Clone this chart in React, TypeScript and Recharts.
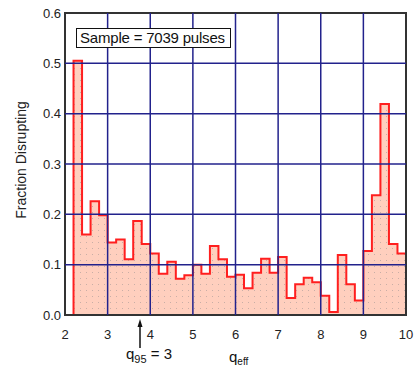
import React from 'react';
import {
  ComposedChart,
  Area,
  XAxis,
  YAxis,
  ReferenceLine,
  ReferenceArea,
} from 'recharts';

// Histogram bin starts (bin width 0.2) and fraction disrupting values
const binStarts = [
  2.2, 2.4, 2.6, 2.8, 3.0, 3.2, 3.4, 3.6, 3.8, 4.0,
  4.2, 4.4, 4.6, 4.8, 5.0, 5.2, 5.4, 5.6, 5.8, 6.0,
  6.2, 6.4, 6.6, 6.8, 7.0, 7.2, 7.4, 7.6, 7.8, 8.0,
  8.2, 8.4, 8.6, 8.8, 9.0, 9.2, 9.4, 9.6, 9.8,
];
const fractions = [
  0.505, 0.16, 0.226, 0.198, 0.144, 0.15, 0.111, 0.187, 0.141, 0.122,
  0.082, 0.106, 0.072, 0.079, 0.1, 0.082, 0.137, 0.111, 0.076, 0.08,
  0.053, 0.084, 0.112, 0.084, 0.115, 0.034, 0.061, 0.074, 0.065, 0.038,
  0.006, 0.119, 0.061, 0.029, 0.127, 0.238, 0.419, 0.141, 0.122,
];
const xEnd = 10;
const xTicks = [2, 3, 4, 5, 6, 7, 8, 9, 10];
const yTicks = [0, 0.1, 0.2, 0.3, 0.4, 0.5, 0.6];
const xGrid = [3, 4, 5, 6, 7, 8, 9];
const yGrid = [0.1, 0.2, 0.3, 0.4, 0.5];
const sampleText = 'Sample = 7039 pulses';

const data = [
  { x: binStarts[0], y: 0 },
  ...binStarts.map((b, i) => ({ x: b, y: fractions[i] })),
  { x: xEnd, y: fractions[fractions.length - 1] },
  { x: xEnd, y: 0 },
];

const FONT = 'Arial, "Liberation Sans", sans-serif';
const GRID = '#22228c';

const Overlay = () => (
  <svg
    width={418}
    height={367}
    style={{ position: 'absolute', left: 0, top: 0, pointerEvents: 'none' }}
  >
    <rect x={76.5} y={28.5} width={154} height={19} fill="#fff" stroke="#111" strokeWidth={1} />
    <text x={80} y={43} fontFamily={FONT} fontSize={15} fill="#111" letterSpacing={-0.2}>
      {sampleText}
    </text>
    <text x={0} y={0} transform="translate(26,160) rotate(-90)" textAnchor="middle" fontFamily={FONT} fontSize={14} fill="#222">
      Fraction Disrupting
    </text>
    {/* q95 arrow */}
    <line x1={140} y1={348} x2={140} y2={326} stroke="#111" strokeWidth={1.5} />
    <polygon points="140,319 137.5,327 142.5,327" fill="#111" />
    <text x={126} y={359} fontFamily={FONT} fontSize={15} fill="#111">
      q
      <tspan fontSize={11} dy={4}>95</tspan>
      <tspan fontSize={15} dy={-4}> = 3</tspan>
    </text>
    <text x={229} y={362} fontFamily={FONT} fontSize={15} fill="#111">
      q
      <tspan fontSize={10} dy={3}>eff</tspan>
    </text>
  </svg>
);

export default function App() {
  return (
    <div style={{ position: 'absolute', left: 0, top: 0, width: 418, height: 367, background: '#fff' }}>
      <ComposedChart
        width={418}
        height={367}
        data={data}
        margin={{ top: 13, right: 12, bottom: 22, left: 5 }}
      >
        <defs>
          <pattern id="dots" x={0} y={0} width={6} height={6} patternUnits="userSpaceOnUse">
            <rect x={0} y={0} width={6} height={6} fill="#ffcfbe" />
            <rect x={2} y={2} width={1} height={1} fill="#c9aea6" />
          </pattern>
        </defs>
        <XAxis
          dataKey="x"
          type="number"
          domain={[2, 10]}
          ticks={xTicks}
          allowDataOverflow
          axisLine={false}
          tickLine={false}
          tickSize={0}
          tickMargin={15}
          height={30}
          tick={{ fill: '#222', fontSize: 13, fontFamily: FONT }}
        />
        <YAxis
          type="number"
          domain={[0, 0.6]}
          ticks={yTicks}
          axisLine={false}
          tickLine={false}
          tickSize={0}
          tickMargin={4}
          width={60}
          tickFormatter={(v: number) => v.toFixed(1)}
          tick={{ fill: '#222', fontSize: 13, fontFamily: FONT }}
        />
        <Area
          type="stepAfter"
          dataKey="y"
          stroke="none"
          fill="url(#dots)"
          fillOpacity={1}
          isAnimationActive={false}
          baseValue={0}
        />
        {xGrid.map((v) => (
          <ReferenceLine key={'vx' + v} x={v} stroke={GRID} strokeWidth={1.5} />
        ))}
        {yGrid.map((v) => (
          <ReferenceLine key={'hy' + v} y={v} stroke={GRID} strokeWidth={1.5} />
        ))}
        <Area
          type="stepAfter"
          dataKey="y"
          stroke="#ff1f1f"
          strokeWidth={2}
          fill="none"
          isAnimationActive={false}
          baseValue={0}
        />
        <ReferenceArea x1={2} x2={10} y1={0} y2={0.6} fill="none" stroke="#333" strokeWidth={2} />
      </ComposedChart>
      <Overlay />
    </div>
  );
}
